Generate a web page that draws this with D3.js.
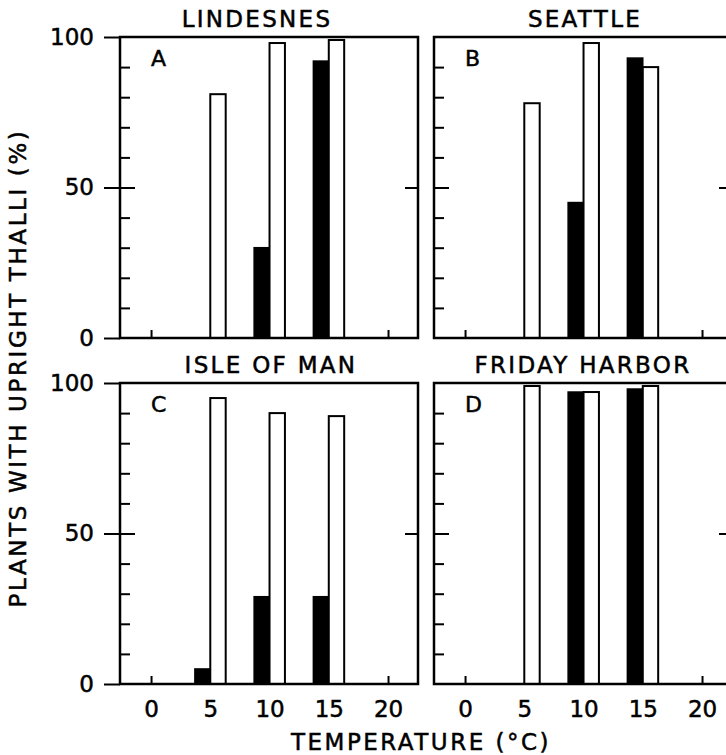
<!DOCTYPE html>
<html>
<head>
<meta charset="utf-8">
<script src="https://cdn.jsdelivr.net/npm/d3@7"></script>
<style>
  html, body { margin: 0; padding: 0; background: #fff; }
  svg { display: block; }
  text { font-family: "DejaVu Sans", "Liberation Sans", Arial, sans-serif; fill: #000; stroke: #000; stroke-width: 0.5px; }
</style>
</head>
<body>
<svg id="chart" width="726" height="755"></svg>
<script>
// ---- data ----
const panelTitles = ["LINDESNES", "SEATTLE", "ISLE OF MAN", "FRIDAY HARBOR"];
const panelLetters = ["A", "B", "C", "D"];
const barTemps = [5, 10, 15];
const blackValues = [
  [0, 30, 92],
  [0, 45, 93],
  [5, 29, 29],
  [0, 97, 98]
];
const whiteValues = [
  [81, 98, 99],
  [78, 98, 90],
  [95, 90, 89],
  [99, 97, 99]
];
const xTickLabels = [0, 5, 10, 15, 20];
const xEdgeTicks = [0, 20];
const yMajorTicks = [0, 50, 100];
const yMinorTicks = [10, 20, 30, 40, 60, 70, 80, 90];
const yLabel = "PLANTS WITH UPRIGHT THALLI (%)";
const xLabel = "TEMPERATURE (\u00B0C)";

// ---- layout ----
const W = 298, H = 301;
const colX = [120, 434];
const rowY = [37, 383];
const titleShift = [-12, 2, 2, 0];
const barW = 1.3; // in degrees C
const FONT = "'DejaVu Sans', 'Liberation Sans', Arial, sans-serif";
const FS = 23;

const svg = d3.select("#chart");

const x = d3.scaleLinear().domain([-2.62, 22.53]).range([0, W]);
const y = d3.scaleLinear().domain([0, 100]).range([H, 0]);

panelTitles.forEach((title, i) => {
  const col = i % 2, row = Math.floor(i / 2);
  const g = svg.append("g").attr("transform", `translate(${colX[col]},${rowY[row]})`);

  // bars
  const bars = barTemps.map((t, j) => ({ t, b: blackValues[i][j], w: whiteValues[i][j] }));
  g.selectAll("rect.black").data(bars.filter(d => d.b > 0)).join("rect")
    .attr("class", "black")
    .attr("x", d => x(d.t - barW))
    .attr("width", d => x(d.t) - x(d.t - barW))
    .attr("y", d => y(d.b))
    .attr("height", d => y(0) - y(d.b))
    .attr("fill", "#000").attr("stroke", "#000").attr("stroke-width", 1.5);
  g.selectAll("rect.white").data(bars.filter(d => d.w > 0)).join("rect")
    .attr("class", "white")
    .attr("x", d => x(d.t))
    .attr("width", d => x(d.t + barW) - x(d.t))
    .attr("y", d => y(d.w))
    .attr("height", d => y(0) - y(d.w))
    .attr("fill", "#fff").attr("stroke", "#000").attr("stroke-width", 2);

  // frame
  g.append("rect").attr("x", 0).attr("y", 0).attr("width", W).attr("height", H)
    .attr("fill", "none").attr("stroke", "#000").attr("stroke-width", 2.5);

  const strip = sel => { sel.select(".domain").remove(); sel.selectAll("line").attr("stroke", "#000").attr("stroke-width", 2); };

  // minor inward ticks
  g.append("g").call(d3.axisLeft(y).tickValues(yMinorTicks).tickSize(-10).tickFormat(""))
    .call(strip);
  // inward major at 50
  g.append("g").call(d3.axisLeft(y).tickValues([50]).tickSize(-15).tickFormat(""))
    .call(strip);
  // right tick at 50
  g.append("g").attr("transform", `translate(${W},0)`)
    .call(d3.axisRight(y).tickValues([50]).tickSize(-13).tickFormat(""))
    .call(strip);
  // bottom inward ticks
  g.append("g").attr("transform", `translate(0,${H})`)
    .call(d3.axisBottom(x).tickValues(xEdgeTicks).tickSize(-8).tickFormat(""))
    .call(strip);

  if (col === 0) {
    const ya = g.append("g")
      .call(d3.axisLeft(y).tickValues(yMajorTicks).tickSize(16).tickPadding(10))
      .call(strip);
    ya.selectAll("text").attr("font-size", FS).style("font-family", FONT);
  }
  if (row === 1) {
    const xa = g.append("g").attr("transform", `translate(0,${H})`)
      .call(d3.axisBottom(x).tickValues(xTickLabels).tickSize(0).tickPadding(17))
      .call(strip);
    xa.selectAll("text").attr("font-size", FS).style("font-family", FONT);
  }

  // title
  g.append("text").attr("x", W / 2 + titleShift[i]).attr("y", -10)
    .attr("text-anchor", "middle").attr("font-size", FS)
    .style("letter-spacing", "2.3px").text(title);
  // letter
  g.append("text").attr("x", 31).attr("y", 29)
    .attr("font-size", FS - 1).text(panelLetters[i]);
});

// axis titles
svg.append("text")
  .attr("transform", `translate(26,368) rotate(-90)`)
  .attr("text-anchor", "middle").attr("font-size", FS)
  .style("letter-spacing", "2.6px").text(yLabel);
svg.append("text")
  .attr("x", 421).attr("y", 750)
  .attr("text-anchor", "middle").attr("font-size", FS)
  .style("letter-spacing", "2.5px").text(xLabel);
</script>
</body>
</html>
